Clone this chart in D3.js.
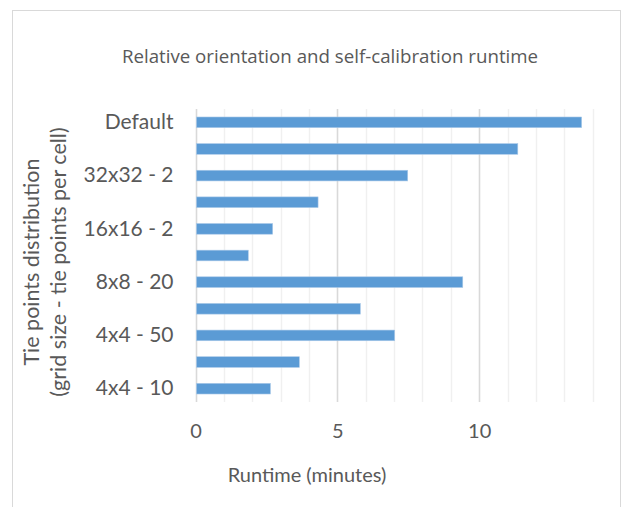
<!DOCTYPE html>
<html>
<head>
<meta charset="utf-8">
<script src="https://cdn.jsdelivr.net/npm/d3@7"></script>
<style>
  body { margin: 0; background: #fff; }
  svg { font-family: Lato, "Open Sans", sans-serif; }
</style>
</head>
<body>
<svg id="chart" width="622" height="507"></svg>
<script>
// categories listed top to bottom; the hidden ones are skipped by the axis
const categories = ['Default', '32x32 - 5', '32x32 - 2', '32x32 - 1', '16x16 - 2', '16x16 - 1',
  '8x8 - 20', '8x8 - 10', '4x4 - 50', '4x4 - 20', '4x4 - 10'];
const runtimes = [13.61, 11.36, 7.48, 4.32, 2.72, 1.86, 9.42, 5.81, 7.02, 3.66, 2.64];
const xTicks = [0, 5, 10];
const gridTicks = d3.range(0, 15);

const svg = d3.select('#chart');
const plotLeft = 195.5, plotRight = 592.7, plotTop = 109, plotBottom = 402;
const textColor = '#595959';

// chart frame
svg.append('rect')
  .attr('x', 12.5).attr('y', 10.5)
  .attr('width', 608).attr('height', 520)
  .attr('fill', '#fff')
  .attr('stroke', '#d9d9d9');

const x = d3.scaleLinear().domain([0, 14]).range([plotLeft, plotRight]);
const y = d3.scaleBand().domain(categories).range([plotTop, plotBottom]).paddingInner(0.6).paddingOuter(0.3);

// grid
svg.append('g').selectAll('line')
  .data(gridTicks)
  .join('line')
  .attr('x1', d => Math.round(x(d)) + 0.5)
  .attr('x2', d => Math.round(x(d)) + 0.5)
  .attr('y1', plotTop).attr('y2', plotBottom)
  .attr('stroke', d => d % 5 === 0 ? '#d9d9d9' : '#f0f0f0')
  .attr('stroke-width', d => d % 5 === 0 ? 1.6 : 1.4);

// bars
svg.append('g').selectAll('rect')
  .data(runtimes)
  .join('rect')
  .attr('x', x(0) + 1)
  .attr('y', (d, i) => y(categories[i]))
  .attr('width', d => x(d) - x(0) - 1)
  .attr('height', y.bandwidth())
  .attr('fill', '#5b9bd5')
  .attr('stroke', '#a9c9e8')
  .attr('stroke-width', 0.6);

// y axis
const yAxis = d3.axisLeft(y)
  .tickValues(categories.filter((d, i) => i % 2 === 0))
  .tickSize(0)
  .tickPadding(22);
const ya = svg.append('g').attr('transform', `translate(${plotLeft},0)`).call(yAxis);
ya.select('.domain').remove();
ya.selectAll('text')
  .attr('font-family', 'Lato, sans-serif')
  .attr('font-size', 21)
  .attr('fill', textColor);

// x axis
const xAxis = d3.axisBottom(x).tickValues(xTicks).tickSize(0).tickPadding(22);
const xa = svg.append('g').attr('transform', `translate(0,${plotBottom})`).call(xAxis);
xa.select('.domain').remove();
xa.selectAll('text')
  .attr('font-family', 'Lato, sans-serif')
  .attr('font-size', 20)
  .attr('fill', textColor);

// title
svg.append('text')
  .attr('x', 330).attr('y', 63)
  .attr('text-anchor', 'middle')
  .attr('font-family', '"Open Sans", sans-serif')
  .attr('font-size', 18.7)
  .attr('fill', textColor)
  .text('Relative orientation and self-calibration runtime');

// axis titles
svg.append('text')
  .attr('x', 307).attr('y', 482)
  .attr('text-anchor', 'middle')
  .attr('font-size', 20)
  .attr('fill', textColor)
  .text('Runtime (minutes)');

const yt = svg.append('text')
  .attr('transform', 'translate(39,262) rotate(-90)')
  .attr('text-anchor', 'middle')
  .attr('font-size', 21.5)
  .attr('fill', textColor);
yt.append('tspan').attr('x', 0).attr('y', 0).text('Tie points distribution');
yt.append('tspan').attr('x', 0).attr('y', 27).text('(grid size - tie points per cell)');
</script>
</body>
</html>
